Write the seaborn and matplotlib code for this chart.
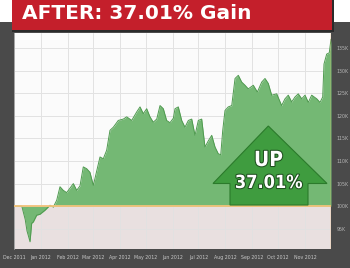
import numpy as np
import pandas as pd
import matplotlib
matplotlib.use("Agg")
import matplotlib.pyplot as plt
from matplotlib.patches import Rectangle, Polygon
import matplotlib.patheffects as pe
import seaborn as sns

# ---- data (days since 1 Dec 2011, account value in $K) ----
days = [0, 9, 11, 13, 15, 16.5, 18.5, 20.4, 22.3, 26.2, 30, 35.8, 41.6, 45.4, 49.3,
        53.1, 56.9, 60.8, 64.7, 68.5, 72.4, 76.2, 80, 83.9, 87.7, 91.6, 95.5, 99.3,
        103.1, 107, 110.8, 114.7, 120.4, 126.2, 130.1, 135.9, 141.7, 145.5, 149.3,
        153.2, 157, 160.8, 164.8, 168.6, 172.4, 176.2, 180.1, 184, 185.9, 189.7,
        193.6, 197.4, 201.3, 205.2, 209, 212.8, 216.7, 220.5, 224.4, 228.3, 232.1,
        235.9, 238.7, 241, 243.6, 247.4, 251.4, 255.2, 259, 262.9, 266.7, 270.5,
        276.3, 281, 286, 289.8, 293.6, 297.5, 303.3, 309, 312.9, 316.7, 320.6,
        324.4, 328.2, 332.2, 336, 339.8, 343.7, 349.5, 353.3, 356.4, 357.9, 361,
        364, 366]
values = [100, 100, 98.5, 97, 94.5, 93.5, 92.1, 96.2, 96.5, 98, 98.2, 99.1, 100.2,
          99.8, 101.3, 104.3, 103.5, 103, 104, 105, 103.5, 104.5, 108.7, 108.3,
          107.5, 104.6, 107.8, 110.9, 110.5, 112.4, 116.8, 117.5, 119, 119.3, 119.8,
          119, 120.9, 122, 120.5, 121.6, 119.8, 118.6, 119.3, 122.3, 121.6, 119,
          118.5, 119.5, 121.6, 122, 119, 117.5, 119, 119.3, 115.7, 119, 119.3, 113.1,
          114.5, 115.7, 113.1, 111.6, 111.4, 116.8, 121.2, 122, 122.3, 128.3, 129,
          127.5, 126.8, 126, 126.8, 125.3, 127.5, 128.3, 127.2, 124.6, 124.9, 122.3,
          123.8, 124.6, 123.1, 124.2, 124.9, 123.8, 124.6, 123, 124.6, 123.8, 123,
          124.2, 131.5, 133.7, 134, 137.01]

month_days = [0, 31, 62, 91, 122, 152, 183, 213, 244, 275, 305, 336]
month_labels = ["Dec 2011", "Jan 2012", "Feb 2012", "Mar 2012", "Apr 2012", "May 2012",
                "Jun 2012", "Jul 2012", "Aug 2012", "Sep 2012", "Oct 2012", "Nov 2012"]
y_ticks = [95, 100, 105, 110, 115, 120, 125, 130, 135]
y_labels = ["95K", "100K", "105K", "110K", "115K", "120K", "125K", "130K", "135K"]
title_text = "AFTER: 37.01% Gain"
badge_lines = ["UP", "37.01%"]

df = pd.DataFrame({"day": days, "value": values})

sns.set_theme(style="white")
plt.rcParams["font.family"] = ["DejaVu Sans"]

fig = plt.figure(figsize=(3.5, 2.68), dpi=100)
fig.patch.set_facecolor("white")

# dark panel
fig.add_artist(Rectangle((0, 0), 1, 1 - 22 / 268, transform=fig.transFigure,
                         facecolor="#4a4a4a", edgecolor="none", zorder=0))

ax = fig.add_axes([14 / 350, 1 - 249 / 268, 317 / 350, 216.3 / 268])
ax.set_xlim(0, 366)
ax.set_ylim(90.5, 138.45)
ax.set_facecolor("#fbfbfb")
ax.axhspan(90.5, 100, color="#e9e0e0", zorder=0)

for yv in y_ticks:
    ax.axhline(yv, color="#e2e2e2", lw=0.7, zorder=0.5)
for xv in month_days:
    ax.axvline(xv, color="#e2e2e2", lw=0.7, zorder=0.5)

ax.fill_between(df["day"], 100, df["value"], color="#74b874", lw=0, zorder=1)
sns.lineplot(data=df, x="day", y="value", ax=ax, color="#4f9a4f", lw=0.7, zorder=2)
ax.axhline(100, color="#f3c27a", lw=1.3, zorder=3)
ax.axvline(366, color="#f0b060", lw=1.0, zorder=3)

ax.set_xticks(month_days)
ax.set_xticklabels(month_labels, fontsize=3.8, color="#c8c8c8", fontstretch="condensed")
ax.yaxis.tick_right()
ax.set_yticks(y_ticks)
ax.set_yticklabels(y_labels, fontsize=3.8, color="#b5b5b5", fontstretch="condensed")
ax.tick_params(axis="both", length=0, pad=4)
ax.set_xlabel("")
ax.set_ylabel("")
for s in ax.spines.values():
    s.set_visible(False)
ax.spines["left"].set_visible(True)
ax.spines["left"].set_color("#9a9a9a")
ax.spines["left"].set_linewidth(0.6)

# arrow badge (axes coords)
def px(x, y):
    return ((x - 14) / 317, (249 - y) / 216.3)

arrow_pts = [px(268.3, 126), px(327, 183.5), px(308, 183.5), px(308, 205),
             px(230, 205), px(230, 183.5), px(213, 183.5)]
ax.add_patch(Polygon(arrow_pts, closed=True, transform=ax.transAxes,
                     facecolor="#3f9c3f", edgecolor="#2b7a2b", lw=0.8, zorder=4))
outline = [pe.withStroke(linewidth=1.5, foreground="#1f4f1f")]
ax.text(*px(268.5, 160), badge_lines[0], transform=ax.transAxes, ha="center",
        va="center", color="white", fontsize=15, fontweight="bold",
        fontstretch="condensed", zorder=5, path_effects=outline)
ax.text(*px(268.5, 183), badge_lines[1], transform=ax.transAxes, ha="center",
        va="center", color="white", fontsize=13, fontweight="bold",
        fontstretch="condensed", zorder=5, path_effects=outline)

# title banner
fig.add_artist(Rectangle((12 / 350, 1 - 32 / 268), 322 / 350, 32 / 268,
                         transform=fig.transFigure, facecolor="#2a2a2a",
                         edgecolor="none", zorder=5))
fig.add_artist(Rectangle((12 / 350, 1 - 30 / 268), 320 / 350, 30 / 268,
                         transform=fig.transFigure, facecolor="#c41f2b",
                         edgecolor="none", zorder=6))
fig.text(22 / 350, 1 - 13.5 / 268, title_text, ha="left", va="center", color="white",
         fontsize=14.5, fontweight="bold", zorder=7)

fig.savefig("out.png", dpi=100)
